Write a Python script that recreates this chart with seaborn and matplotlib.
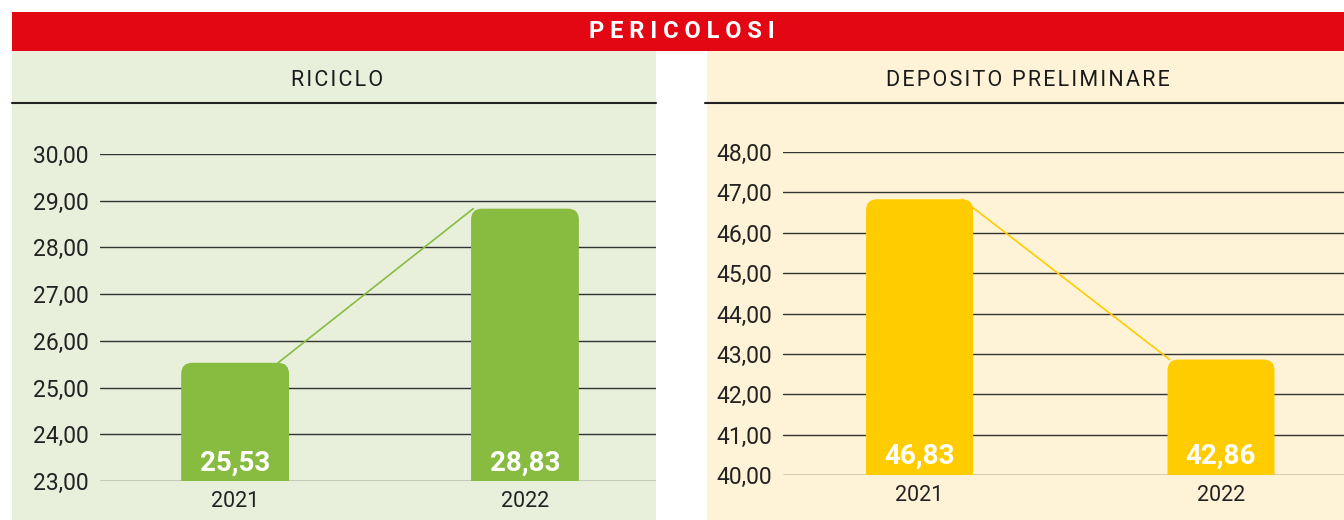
import matplotlib
matplotlib.use("Agg")
import matplotlib.pyplot as plt
import seaborn as sns
import numpy as np
from matplotlib.patches import Rectangle, FancyBboxPatch
from matplotlib.ticker import FuncFormatter, MultipleLocator
from matplotlib.lines import Line2D

# ---- data ----
years = ["2021", "2022"]
riciclo = [25.53, 28.83]
deposito = [46.83, 42.86]
main_title = "PERICOLOSI"
left_title = "RICICLO"
right_title = "DEPOSITO PRELIMINARE"
left_ylim = (23, 30)
right_ylim = (40, 48)

sns.set_theme(style="white")
plt.rcParams["font.family"] = ["Roboto", "DejaVu Sans"]

W, H = 1344, 520
fig = plt.figure(figsize=(W / 100, H / 100), dpi=100)
fig.patch.set_facecolor("white")

RED = "#E30613"
GREEN = "#87BC41"
YELLOW = "#FFCC00"
GREEN_BG = "#E8F0DC"
CREAM_BG = "#FEF3D7"


def px_rect(x0, y0, x1, y1, color, z=0):
    fig.add_artist(Rectangle((x0 / W, 1 - y1 / H), (x1 - x0) / W, (y1 - y0) / H,
                             transform=fig.transFigure, facecolor=color,
                             edgecolor="none", zorder=z))


def px_hline(x0, x1, y, color="#222222", lw=1.5):
    fig.add_artist(Line2D([x0 / W, x1 / W], [1 - y / H, 1 - y / H],
                          transform=fig.transFigure, color=color, lw=lw, zorder=2))


def spaced(s, sep="\u200a"):
    out = []
    for word in s.split(" "):
        out.append(sep.join(word))
    return (sep + " " + sep).join(out)


# backgrounds
px_rect(12, 51, 656, 520, GREEN_BG)
px_rect(707, 51, 1344, 520, CREAM_BG)
px_rect(12, 12, 1344, 51, RED, z=1)

fig.text(682 / W, 1 - 32 / H, " ".join(main_title), color="white", fontsize=17,
         fontweight="bold", ha="center", va="center", zorder=3)

fig.text(337 / W, 1 - 80 / H, spaced(left_title), color="#1a1a1a", fontsize=15.5,
         ha="center", va="center", zorder=3)
fig.text(1028 / W, 1 - 80 / H, spaced(right_title), color="#1a1a1a", fontsize=15.5,
         ha="center", va="center", zorder=3)
px_hline(12, 656, 103)
px_hline(705, 1344, 103)


def fmt(v, _=None):
    return f"{v:.2f}".replace(".", ",")


def panel(rect_px, values, color, ylim, xlim, width, label_off):
    x0, y_top, x1, y_bot = rect_px
    ax = fig.add_axes([x0 / W, 1 - y_bot / H, (x1 - x0) / W, (y_bot - y_top) / H])
    ax.set_facecolor("none")
    sns.barplot(x=years, y=values, color=color, width=width, ax=ax,
                saturation=1, zorder=3)
    ax.set_ylim(*ylim)
    ax.set_xlim(*xlim)
    ax.yaxis.set_major_locator(MultipleLocator(1))
    ax.yaxis.set_major_formatter(FuncFormatter(fmt))
    ax.grid(axis="y", color="#333333", lw=1.0, zorder=0)
    ax.grid(axis="x", visible=False)
    for s in ax.spines.values():
        s.set_visible(False)
    ax.tick_params(axis="y", length=0, pad=8, labelsize=16.5, labelcolor="#222222")
    ax.tick_params(axis="x", length=0, pad=7, labelsize=15.5, labelcolor="#222222")
    ax.set_xlabel("")
    ax.set_ylabel("")

    # pixel per data unit
    p0 = ax.transData.transform((0, 0))
    p1 = ax.transData.transform((1, 1))
    pxx = p1[0] - p0[0]
    pxy = p1[1] - p0[1]
    r_px = 11
    rx = r_px / pxx
    aspect = (r_px / pxy) / rx

    for bar in list(ax.patches):
        bx, by, bw, bh = bar.get_x(), bar.get_y(), bar.get_width(), bar.get_height()
        bar.set_visible(False)
        fb = FancyBboxPatch((bx, ylim[0] - 2), bw, bh - (ylim[0] - 2),
                            boxstyle=f"round,pad=0,rounding_size={rx}",
                            mutation_aspect=aspect, facecolor=color,
                            edgecolor="none", zorder=3)
        ax.add_patch(fb)

    # connector line between bar tops
    ax.plot([width / 2 - rx, 1 - width / 2 + rx * 0.2], values, color=color,
            lw=1.2, zorder=2)

    for i, v in enumerate(values):
        ax.annotate(fmt(v), (i, ylim[0]), xytext=(0, label_off),
                    textcoords="offset pixels", ha="center", va="bottom",
                    color="white", fontsize=20, fontweight="bold", zorder=5)
    return ax


panel((100, 154, 656, 481), riciclo, GREEN, left_ylim, (-0.466, 1.452), 0.372, 4)
panel((783, 152, 1344, 475), deposito, YELLOW, right_ylim, (-0.453, 1.408), 0.355, 5)

fig.savefig("out.png", dpi=100, facecolor="white")
